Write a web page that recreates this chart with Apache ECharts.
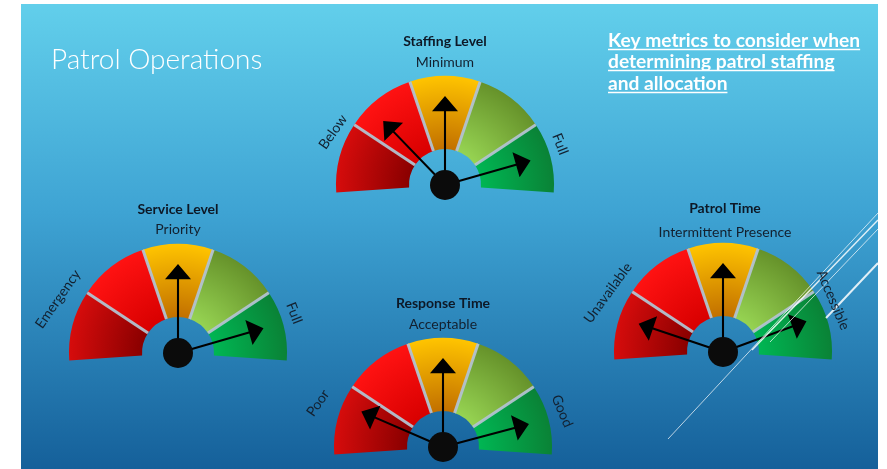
<!DOCTYPE html>
<html><head><meta charset="utf-8">
<script src="https://cdn.jsdelivr.net/npm/echarts/dist/echarts.min.js"></script>
<style>
html,body{margin:0;padding:0;background:#fff;width:887px;height:469px;overflow:hidden}
#c{position:absolute;left:21px;top:4px;width:857px;height:465px}
</style>
</head><body><div id="c"></div>
<script>
// ---- data ----
const gaugeTitles = ['Staffing Level', 'Service Level', 'Response Time', 'Patrol Time'];
const gaugeSubtitles = ['Minimum', 'Priority', 'Acceptable', 'Intermittent Presence'];
const lowLabels = ['Below', 'Emergency', 'Poor', 'Unavailable'];
const highLabels = ['Full', 'Full', 'Good', 'Accessible'];
// needle readings on a 0-100 dial scale (0 = far left, 100 = far right)
const needleValues = [
  [26.6, 50, 89.4],
  [50, 89.3],
  [14.6, 50, 89.9],
  [12.0, 50, 87.1]
];
const segmentBreaks = [0.2, 0.4, 0.6, 0.8, 1];
const slideTitle = 'Patrol Operations';
const noteLines = ['Key metrics to consider when', 'determining patrol staffing', 'and allocation'];

// ---- layout / style ----
const OX = 21, OY = 4; // slide offset inside the window
const hubs = [[445, 185], [178, 353], [443, 447], [723, 352]];
const titleY = [[41, 62], [209, 229], [303, 324], [208, 232]];
const titleX = [445, 178, 443, 725];
const lowPos = [[333, 132, 55], [58, 299, 55], [318, 403, 55], [608, 293, 54]];
const highPos = [[560, 144, -69], [294, 313, -69], [562, 411, -67], [833, 300, -67]];
const R = 109, BAND = 73;
const START = 184, END = -4, STEP = (START - END) / 5;
const segColors = [
  ['#8a0000', '#d60c0c'],
  ['#d80000', '#ff1212'],
  ['#c27000', '#ffc400'],
  ['#96d352', '#66922a'],
  ['#00b653', '#0a8236']
];
const textDark = '#13202f';

function dialSeries(i) {
  const cx = hubs[i][0] - OX, cy = hubs[i][1] - OY;
  return {
    type: 'gauge', center: [cx, cy], radius: R, startAngle: START, endAngle: END,
    min: 0, max: 100, splitNumber: 5, silent: true, z: 2,
    axisLine: { lineStyle: { width: BAND, color: segmentBreaks.map((b, k) => [b, {
      type: 'radial', x: cx, y: cy, r: R, global: true,
      colorStops: [{ offset: 0.33, color: segColors[k][0] }, { offset: 1, color: segColors[k][1] }]
    }]) } },
    splitLine: { show: false },
    axisTick: { show: false }, axisLabel: { show: false },
    pointer: { show: false }, anchor: { show: false },
    title: { show: false }, detail: { show: false },
    data: [{ value: 0 }]
  };
}
// thin light separators between the five bands (interior boundaries only)
function separatorSeries(i) {
  const cx = hubs[i][0] - OX, cy = hubs[i][1] - OY;
  return {
    type: 'gauge', center: [cx, cy], radius: R, startAngle: START - STEP, endAngle: END + STEP,
    min: 0, max: 3, splitNumber: 3, silent: true, z: 2.5,
    axisLine: { show: false, lineStyle: { width: 0 } },
    splitLine: { distance: 0, length: BAND, lineStyle: { color: 'rgba(178,194,208,0.95)', width: 3 } },
    axisTick: { show: false }, axisLabel: { show: false },
    pointer: { show: false }, anchor: { show: false },
    title: { show: false }, detail: { show: false },
    data: [{ value: 0 }]
  };
}
function needleSeries(i) {
  const cx = hubs[i][0] - OX, cy = hubs[i][1] - OY;
  return {
    type: 'gauge', center: [cx, cy], radius: R, startAngle: START, endAngle: END,
    min: 0, max: 100, silent: true, z: 3,
    axisLine: { show: false }, splitLine: { show: false }, axisTick: { show: false }, axisLabel: { show: false },
    pointer: { icon: 'path://M15 0L30 17L16.2 17L16.2 100L13.8 100L13.8 17L0 17Z', length: 89, width: 26,
      itemStyle: { color: '#000' } },
    anchor: { show: true, showAbove: true, size: 30, icon: 'circle', itemStyle: { color: '#0b0b0b', borderWidth: 0 } },
    title: { show: false }, detail: { show: false },
    data: needleValues[i].map(v => ({ value: v }))
  };
}

const cv = document.createElement('canvas').getContext('2d');
function measure(txt, font) { cv.font = font; return cv.measureText(txt).width; }

const graphics = [];
// slide title
let tf = 25 * 211 / measure(slideTitle, '300 25px Lato');
graphics.push({ type: 'text', z: 10, x: 51 - OX, y: 60 - OY,
  style: { text: slideTitle, font: '300 ' + tf.toFixed(1) + 'px Lato', fill: '#ffffff', verticalAlign: 'middle' } });
// note block (underlined)
let nf = 16 * 252 / measure(noteLines[0], 'bold 16px Lato');
const noteFont = 'bold ' + nf.toFixed(1) + 'px Lato';
const noteY = [41, 62, 84];
noteLines.forEach((t, k) => {
  const w = measure(t, noteFont);
  graphics.push({ type: 'text', z: 10, x: 608 - OX, y: noteY[k] - OY,
    style: { text: t, font: noteFont, fill: '#ffffff', verticalAlign: 'middle' } });
  graphics.push({ type: 'line', z: 10, shape: { x1: 608 - OX, y1: noteY[k] + 8.5 - OY, x2: 608 + w - OX, y2: noteY[k] + 8.5 - OY },
    style: { stroke: '#ffffff', lineWidth: 1.5 } });
});
// gauge titles and labels
for (let i = 0; i < 4; i++) {
  graphics.push({ type: 'text', z: 10, x: titleX[i] - OX, y: titleY[i][0] - OY,
    style: { text: gaugeTitles[i], font: 'bold 14px Lato', fill: '#0d1826', align: 'center', verticalAlign: 'middle' } });
  graphics.push({ type: 'text', z: 10, x: titleX[i] - OX, y: titleY[i][1] - OY,
    style: { text: gaugeSubtitles[i], font: '14px Lato', fill: textDark, align: 'center', verticalAlign: 'middle' } });
  graphics.push({ type: 'text', z: 10, x: lowPos[i][0] - OX, y: lowPos[i][1] - OY, rotation: lowPos[i][2] * Math.PI / 180,
    style: { text: lowLabels[i], font: '14px Lato', fill: textDark, align: 'center', verticalAlign: 'middle' } });
  graphics.push({ type: 'text', z: 10, x: highPos[i][0] - OX, y: highPos[i][1] - OY, rotation: highPos[i][2] * Math.PI / 180,
    style: { text: highLabels[i], font: '14px Lato', fill: textDark, align: 'center', verticalAlign: 'middle' } });
}
// decorative slide lines
[[668, 439, 878, 213, 1, 0.7], [752, 350, 878, 220, 1.5, 0.85], [770, 342, 878, 229, 1, 0.7], [826, 318, 878, 263, 2, 0.85]]
  .forEach(l => graphics.push({ type: 'line', z: 9,
    shape: { x1: l[0] - OX, y1: l[1] - OY, x2: l[2] - OX, y2: l[3] - OY },
    style: { stroke: 'rgba(255,255,255,' + l[5] + ')', lineWidth: l[4] } }));

const chart = echarts.init(document.getElementById('c'), null, { renderer: 'canvas' });
chart.setOption({
  animation: false,
  backgroundColor: { type: 'linear', x: 0, y: 0, x2: 0, y2: 1,
    colorStops: [{ offset: 0, color: '#62cfeb' }, { offset: 0.45, color: '#3ea3d3' }, { offset: 1, color: '#15609a' }] },
  series: [0, 1, 2, 3].map(dialSeries)
    .concat([0, 1, 2, 3].map(separatorSeries))
    .concat([0, 1, 2, 3].map(needleSeries)),
  graphic: { elements: graphics }
});
</script>
</body></html>
